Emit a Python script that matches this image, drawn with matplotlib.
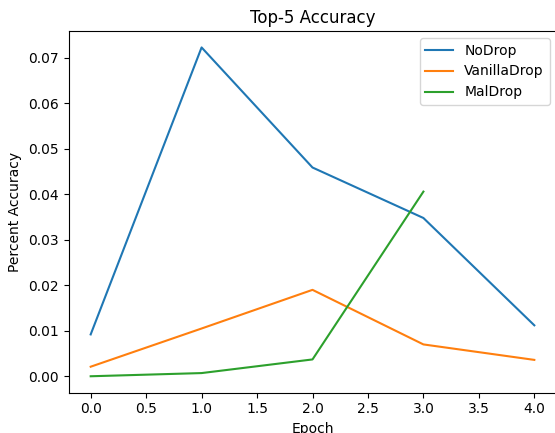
import matplotlib
matplotlib.use("Agg")
import matplotlib.pyplot as plt

# per-epoch top-5 accuracy
epochs = [0, 1, 2, 3, 4]
nodrop = [0.0092, 0.0723, 0.0459, 0.0348, 0.0112]
vanilla = [0.0021, 0.0105, 0.0190, 0.0070, 0.0036]
maldrop = [0.0000, 0.0007, 0.0037, 0.0406]
series = [("NoDrop", epochs, nodrop),
          ("VanillaDrop", epochs, vanilla),
          ("MalDrop", epochs[:4], maldrop)]

fig = plt.figure(figsize=(5.55, 4.33), dpi=100)
# axes run slightly past the right edge, as in the (cropped) reference
ax = fig.add_axes([68.5 / 555, 40.3 / 433, 488 / 555, 361.7 / 433])
for name, x, y in series:
    ax.plot(x, y, label=name)
ax.set_title("Top-5 Accuracy")
ax.set_xlabel("Epoch")
ax.set_ylabel("Percent Accuracy")
ax.legend(loc="upper right")
fig.savefig("out.png", dpi=100)
